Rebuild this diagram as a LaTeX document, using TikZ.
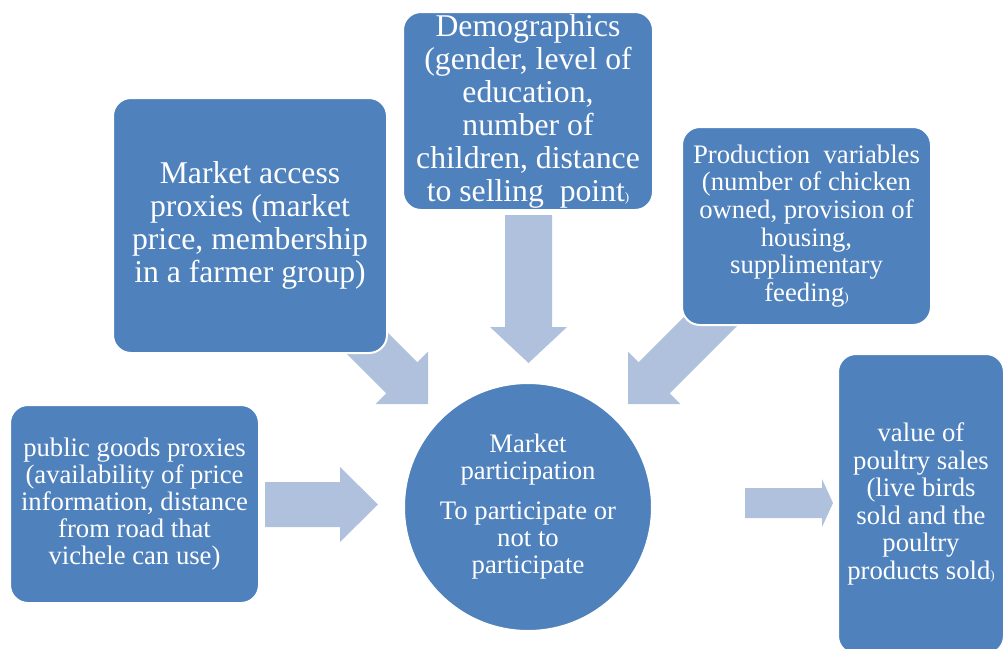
\documentclass[tikz,border=0pt]{standalone}
\usepackage{fontspec}
\setmainfont{Liberation Serif}
\usetikzlibrary{calc}
\definecolor{boxblue}{RGB}{79,129,189}
\definecolor{arrowblue}{RGB}{176,193,222}

% Block arrow from #1 (tail) to #2 (tip): shaft half width #3,
% head half width #4, head length #5
\newcommand{\blockarr}[5]{%
  \coordinate (hb) at ($(#2)!#5!(#1)$);
  \fill[arrowblue]
    ($(#1)!#3!90:(#2)$) -- ($(hb)!#3!90:(#2)$) -- ($(hb)!#4!90:(#2)$)
    -- (#2)
    -- ($(hb)!#4!-90:(#2)$) -- ($(hb)!#3!-90:(#2)$) -- ($(#1)!#3!-90:(#2)$)
    -- cycle;
}

\begin{document}
\begin{tikzpicture}[x=1pt, y=-1pt,
  box/.style={rectangle, rounded corners=18pt, fill=boxblue, draw=white,
    line width=2pt, text=white, align=center, inner sep=0pt},
  bigtxt/.style={font=\fontsize{31.7}{33}\selectfont},
  smalltxt/.style={font=\fontsize{26.7}{27}\selectfont},
  midtxt/.style={font=\fontsize{26.7}{27.6}\selectfont},
  tinyparen/.style={}]
\useasboundingbox (0,0) rectangle (1004,648);
\clip (0,0) rectangle (1004,648);

% arrow end points
\coordinate (demoTail) at (528.5,215);
\coordinate (demoTip)  at (528.5,363);
\coordinate (maTail)   at (328,304);
\coordinate (maTip)    at (428,404);
\coordinate (prodTail) at (728,304);
\coordinate (prodTip)  at (628,404);
\coordinate (pubTail)  at (265,504.5);
\coordinate (pubTip)   at (378,504.5);
\coordinate (mpTail)   at (745,503);
\coordinate (mpTip)    at (833,503);

% block arrows (drawn first, boxes sit on top)
\blockarr{demoTail}{demoTip}{23.5pt}{38.5pt}{36pt}
\blockarr{maTail}{maTip}{22pt}{37pt}{37pt}
\blockarr{prodTail}{prodTip}{22pt}{37pt}{37pt}
\blockarr{pubTail}{pubTip}{22.5pt}{37.5pt}{38pt}
\blockarr{mpTail}{mpTip}{15pt}{24pt}{11pt}

% factor boxes
\node[box, bigtxt, minimum width=274, minimum height=255] (ma) at (250,225.5)
  {Market access\\proxies (market\\price, membership\\in a farmer group)};
\node[box, bigtxt, minimum width=250, minimum height=198] (demo) at (528,111)
  {Demographics\\(gender, level of\\education,\\number of\\children, distance\\to selling\ \ point{\fontsize{13}{13}\selectfont)}};
\node[box, midtxt, minimum width=249, minimum height=198] (prod) at (806.5,226)
  {Production\ \ variables\\(number of chicken\\owned, provision of\\housing,\\supplimentary\\feeding{\fontsize{13}{13}\selectfont)}};
\node[box, smalltxt, minimum width=249, minimum height=198] (pub) at (134.5,504)
  {public goods proxies\\(availability of price\\information, distance\\from road that\\vichele can use)};

% central outcome
\node[circle, fill=boxblue, draw=white, line width=2pt, text=white,
  align=center, inner sep=0pt, minimum size=248, smalltxt] (mp) at (528,507)
  {Market\\participation\\[13pt]To participate or\\not to\\participate};

% final outcome
\node[box, midtxt, minimum width=166, minimum height=300] (val) at (921,504)
  {value of\\poultry sales\\(live birds\\sold and the\\poultry\\products sold{\fontsize{13}{13}\selectfont)}};
\end{tikzpicture}
\end{document}
